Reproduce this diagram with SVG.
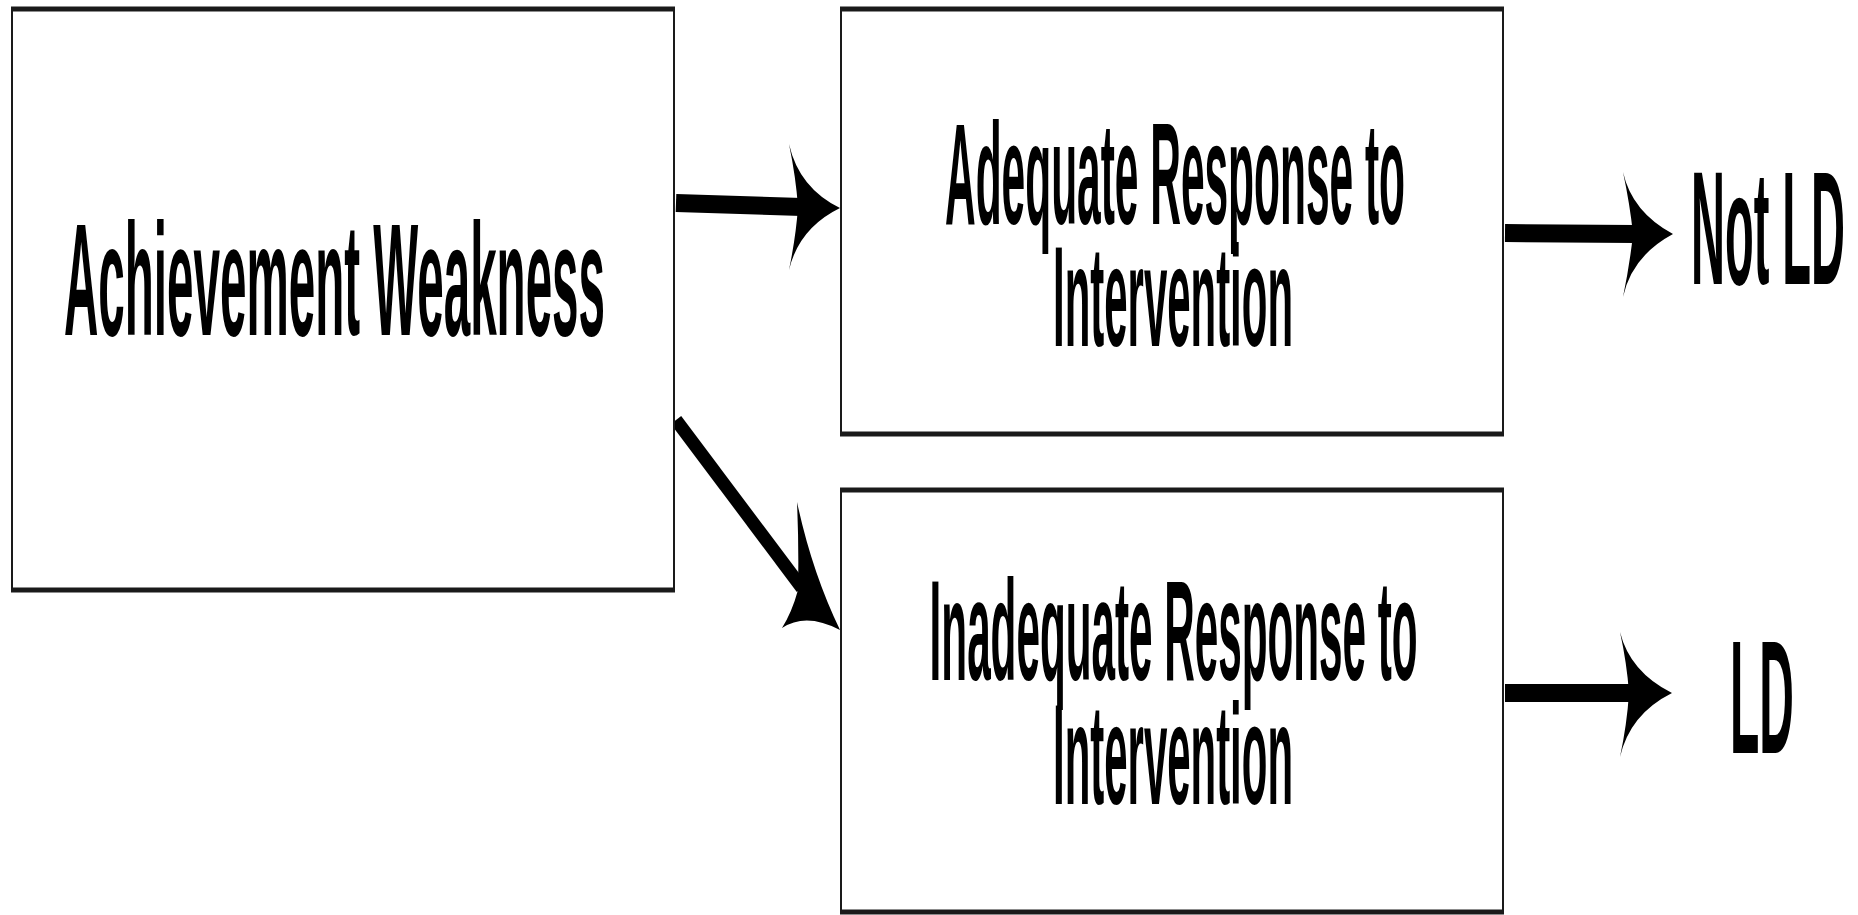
<svg xmlns="http://www.w3.org/2000/svg" width="1858" height="915" viewBox="0 0 1858 915">
<style>
.box{fill:#fff;stroke:#1a1a1a;stroke-width:2}
.hb{stroke:#1a1a1a;stroke-width:5;fill:none}
.lbl{font-family:"Liberation Sans",Arial,Helvetica,sans-serif;font-weight:bold;text-anchor:middle;fill:#000}
.ln{stroke:#000;fill:none;stroke-linecap:butt}
.head{fill:#000;stroke:none}
</style>
<rect width="1858" height="915" fill="#fff"/>
<g id="connectors">
  <line class="ln" x1="676" y1="203" x2="802" y2="207" stroke-width="18"/>
  <path class="head" d="M840 208 Q799 188 789 144 Q796 178 798 207 Q796 236 789 270 Q799 228 840 208 Z"/>
  <line class="ln" x1="676" y1="420" x2="802" y2="588" stroke-width="13"/>
  <path class="head" d="M840 630 Q812 572 797 502 Q799 548 798 590 Q792 612 782 628 Q806 612 840 630 Z"/>
  <line class="ln" x1="1505" y1="233" x2="1635" y2="234" stroke-width="18"/>
  <path class="head" d="M1673 234 Q1632 212 1623 172 Q1630 205 1633 234 Q1630 263 1623 297 Q1632 256 1673 234 Z"/>
  <line class="ln" x1="1505" y1="693" x2="1630" y2="693" stroke-width="18"/>
  <path class="head" d="M1672 693 Q1630 672 1620 632 Q1627 664 1629 693 Q1627 724 1620 757 Q1630 714 1672 693 Z"/>
</g>
<g id="node-achievement">
  <rect class="box" x="12" y="9" width="662" height="581"/>
  <line class="hb" x1="11" y1="9" x2="675" y2="9"/>
  <line class="hb" x1="11" y1="590" x2="675" y2="590"/>
  <text class="lbl" font-size="47" transform="translate(334.5 334.5) scale(1 3.38)" textLength="541" lengthAdjust="spacingAndGlyphs">Achievement Weakness</text>
</g>
<g id="node-adequate">
  <rect class="box" x="841" y="9" width="662" height="425"/>
  <line class="hb" x1="840" y1="9" x2="1504" y2="9"/>
  <line class="hb" x1="840" y1="434" x2="1504" y2="434"/>
  <text class="lbl" font-size="42" transform="translate(1175 223.5) scale(1 3.45)" textLength="460" lengthAdjust="spacingAndGlyphs">Adequate Response to</text>
  <text class="lbl" font-size="42" transform="translate(1173 346) scale(1 3.42)" textLength="240" lengthAdjust="spacingAndGlyphs">Intervention</text>
</g>
<g id="node-inadequate">
  <rect class="box" x="841" y="490" width="662" height="422"/>
  <line class="hb" x1="840" y1="490" x2="1504" y2="490"/>
  <line class="hb" x1="840" y1="912" x2="1504" y2="912"/>
  <text class="lbl" font-size="42" transform="translate(1173.6 680) scale(1 3.42)" textLength="488" lengthAdjust="spacingAndGlyphs">Inadequate Response to</text>
  <text class="lbl" font-size="42" transform="translate(1173 804) scale(1 3.42)" textLength="240" lengthAdjust="spacingAndGlyphs">Intervention</text>
</g>
<g id="node-notld">
  <text class="lbl" font-size="46" transform="translate(1768 284) scale(1 3.5)" textLength="154" lengthAdjust="spacingAndGlyphs">Not LD</text>
</g>
<g id="node-ld">
  <text class="lbl" font-size="46" transform="translate(1762 753) scale(1 3.5)" textLength="64" lengthAdjust="spacingAndGlyphs">LD</text>
</g>
</svg>
